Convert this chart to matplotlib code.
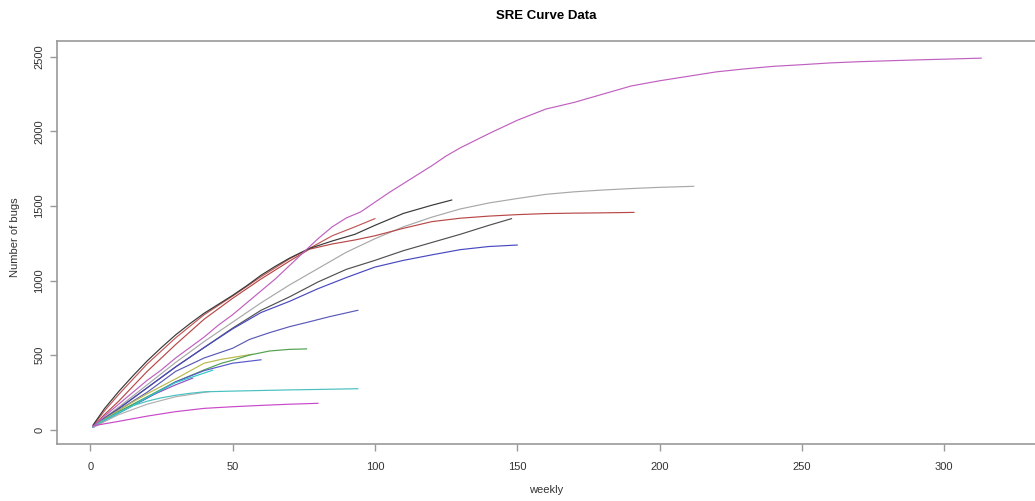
import matplotlib
matplotlib.use("Agg")
import matplotlib.pyplot as plt

plt.rcParams['font.family'] = ['Liberation Sans', 'DejaVu Sans']

# cumulative bug counts per project (week, bugs)
wk_a = [1, 5, 10, 15, 20, 25, 30, 35, 40, 45, 50, 55, 60, 65, 70, 75, 80, 85, 90, 95,
        100, 105, 110, 115, 120, 125, 130, 140, 150, 160, 170, 180, 190, 200, 210, 220,
        230, 240, 250, 260, 270, 280, 290, 300, 313]
bugs_a = [20, 90, 170, 250, 330, 400, 480, 550, 620, 700, 770, 850, 930, 1010, 1100, 1190,
          1280, 1360, 1420, 1460, 1525, 1590, 1650, 1710, 1770, 1835, 1890, 1985, 2075,
          2150, 2195, 2250, 2305, 2340, 2370, 2400, 2420, 2437, 2448, 2460, 2468, 2474,
          2480, 2485, 2492]

wk_b = [1, 5, 10, 20, 30, 40, 50, 60, 70, 80, 90, 100, 110, 120, 130, 140, 150, 160, 170,
        180, 190, 200, 212]
bugs_b = [20, 80, 150, 300, 450, 590, 720, 850, 970, 1080, 1190, 1280, 1360, 1425, 1480,
          1520, 1550, 1578, 1595, 1607, 1617, 1625, 1632]

wk_c = [1, 5, 10, 20, 30, 40, 50, 60, 70, 77, 85, 93, 100, 110, 120, 130, 140, 150, 160,
        170, 180, 191]
bugs_c = [20, 100, 190, 390, 570, 740, 880, 1010, 1130, 1210, 1245, 1272, 1300, 1350, 1395,
          1418, 1432, 1442, 1449, 1452, 1454, 1457]

wk_d = [1, 5, 10, 15, 20, 25, 30, 35, 40, 45, 50, 55, 60, 65, 70, 77, 85, 93, 100, 110,
        120, 127]
bugs_d = [30, 140, 255, 360, 460, 550, 635, 710, 780, 840, 900, 965, 1035, 1095, 1150, 1215,
          1265, 1310, 1370, 1450, 1505, 1540]

wk_e = [1, 5, 10, 20, 30, 40, 50, 60, 70, 80, 90, 100, 110, 120, 130, 140, 148]
bugs_e = [20, 75, 140, 280, 420, 550, 680, 800, 890, 990, 1075, 1135, 1200, 1255, 1310,
          1370, 1415]

wk_f = [1, 5, 10, 20, 30, 40, 50, 60, 70, 80, 90, 100, 110, 120, 130, 140, 150]
bugs_f = [20, 75, 140, 280, 420, 550, 675, 785, 860, 945, 1020, 1090, 1135, 1172, 1207,
          1228, 1238]

wk_g = [1, 5, 10, 20, 30, 40, 50, 60, 70, 77, 85, 93, 100]
bugs_g = [25, 125, 235, 440, 615, 770, 895, 1025, 1145, 1215, 1300, 1360, 1415]

wk_h = [1, 5, 10, 20, 30, 40, 50, 56, 63, 70, 77, 84, 94]
bugs_h = [20, 70, 130, 250, 390, 480, 545, 605, 650, 690, 723, 757, 800]

wk_i = [1, 10, 20, 30, 40, 46, 50, 56, 63, 70, 76]
bugs_i = [20, 120, 220, 320, 400, 444, 465, 500, 527, 538, 541]

wk_j = [1, 10, 20, 30, 40, 50, 60]
bugs_j = [15, 110, 210, 320, 395, 445, 468]

wk_k = [1, 5, 10, 15, 20, 25, 30, 35, 40, 50, 60, 70, 80, 94]
bugs_k = [20, 65, 115, 160, 190, 213, 230, 243, 253, 258, 262, 266, 269, 274]

wk_l = [1, 10, 20, 30, 40, 50, 60, 70, 80]
bugs_l = [25, 55, 90, 120, 142, 153, 162, 170, 176]

wk_m = [1, 10, 20, 30, 40, 46, 53, 57]
bugs_m = [20, 130, 240, 340, 445, 471, 493, 505]

wk_n = [1, 10, 20, 30, 43]
bugs_n = [15, 110, 215, 315, 398]

wk_p = [1, 10, 20, 30, 42]
bugs_p = [15, 100, 170, 220, 255]

wk_q = [1, 10, 20, 30, 36]
bugs_q = [15, 115, 215, 300, 345]

series = [
    (wk_b, bugs_b, '#a8a8a8'),
    (wk_c, bugs_c, '#b84848'),
    (wk_g, bugs_g, '#c05858'),
    (wk_d, bugs_d, '#383838'),
    (wk_e, bugs_e, '#505050'),
    (wk_f, bugs_f, '#4848c0'),
    (wk_h, bugs_h, '#5a5ab8'),
    (wk_q, bugs_q, '#9050c0'),
    (wk_m, bugs_m, '#b8b84c'),
    (wk_i, bugs_i, '#50a050'),
    (wk_j, bugs_j, '#5858c8'),
    (wk_n, bugs_n, '#30c8c8'),
    (wk_p, bugs_p, '#b0b0b0'),
    (wk_k, bugs_k, '#48c0c0'),
    (wk_l, bugs_l, '#c848c8'),
    (wk_a, bugs_a, '#c060c0'),
]

fig = plt.figure(figsize=(10.35, 5.01), dpi=100)
ax = fig.add_axes([57 / 1035, 1 - 444.3 / 501, 1 - 57 / 1035, (444.3 - 41) / 501])

for wk, bugs, col in series:
    ax.plot(wk, bugs, color=col, lw=0.85)

ax.set_xlim(-11.66, 331.9)
ax.set_ylim(-99, 2607)
ax.set_xticks([0, 50, 100, 150, 200, 250, 300])
ax.set_yticks([0, 500, 1000, 1500, 2000, 2500])

for side in ['left', 'bottom', 'top']:
    ax.spines[side].set_color('#999999')
    ax.spines[side].set_linewidth(1.2)
ax.spines['right'].set_visible(False)

ax.tick_params(axis='both', colors='#999999', length=5, width=1,
               labelcolor='#333333', labelsize=8)
ax.tick_params(axis='x', pad=8)
ax.tick_params(axis='y', pad=4)
for lbl in ax.get_yticklabels():
    lbl.set_rotation(90)
    lbl.set_va('center')

fig.text(546 / 1035, 1 - 16 / 501, 'SRE Curve Data', ha='center', va='center',
         fontsize=9.5, fontweight='bold', color='black')
fig.text(546 / 1035, 1 - 490 / 501, 'weekly', ha='center', va='center',
         fontsize=8, color='#333333')
fig.text(15 / 1035, 1 - 237 / 501, 'Number of bugs', ha='center', va='center',
         rotation=90, fontsize=8, color='#333333')

fig.savefig('out.png', dpi=100, facecolor='white')
